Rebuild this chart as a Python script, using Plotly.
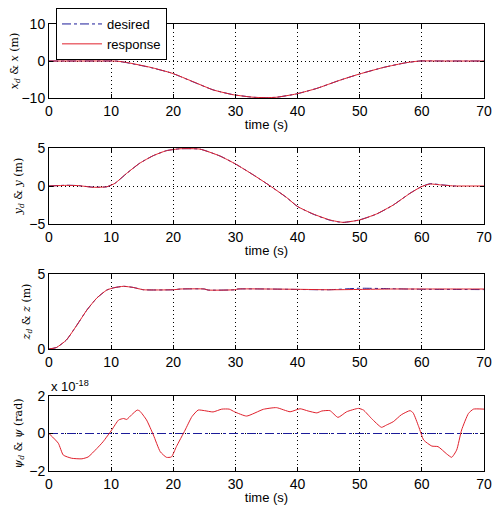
import plotly.graph_objects as go

# ---- panel 1: x position (m)
t_x = [0, 5, 10, 11, 12.5, 16.3, 19.8, 23.2, 26.4, 29.6, 32.9, 35, 36.6, 39.8, 43.1, 46.8, 50, 53.8, 57.5, 59.7, 63, 66, 70]
x_des = [0, 0, 0, -0.05, -0.45, -1.75, -3.3, -5.65, -7.8, -9.1, -9.8, -9.9, -9.8, -8.9, -7.4, -5.2, -3.5, -1.75, -0.45, 0, 0, 0, 0]
x_resp = [0, 0, 0, -0.05, -0.4, -1.7, -3.3, -5.6, -7.8, -9.1, -9.8, -9.9, -9.8, -8.9, -7.4, -5.2, -3.5, -1.75, -0.45, 0, 0, 0, 0]

# ---- panel 2: y position (m)
t_y = [0, 2.8, 4.7, 7.1, 9.3, 10.6, 12.5, 14.6, 16.8, 18.9, 21.1, 24.3, 27.5, 30, 32.9, 35.6,
       38.2, 40, 42.5, 45.2, 47.3, 50, 52.7, 55.4, 58.1, 59.9, 61.3, 63.2, 65.3, 66, 70]
y_des = [0, 0.1, 0.05, -0.15, -0.1, 0.35, 1.65, 3.0, 4.0, 4.65, 4.9, 4.85, 3.95, 2.9, 1.45, 0,
         -1.5, -2.7, -3.7, -4.5, -4.8, -4.45, -3.7, -2.5, -0.95, -0.1, 0.3, 0.15, 0.0, 0.0]
y_resp = [0, 0.08, 0.05, -0.17, -0.1, 0.35, 1.67, 3.0, 4.0, 4.65, 4.9, 4.85, 3.95, 2.9, 1.45, 0,
          -1.49, -2.7, -3.68, -4.47, -4.78, -4.47, -3.68, -2.5, -0.96, -0.1, 0.26, 0.13, 0.0, 0.0, 0.0]

# ---- panel 3: z position (m)
t_z = [0, 1.2, 2.8, 4.5, 6.1, 7.7, 9.3, 10.4, 12, 13.6, 15.2, 20, 21.2, 25, 25.6, 29.9, 30.4,
       35, 40, 45, 50, 55, 60, 65, 70]
z_des = [0, 0.1, 0.6, 1.6, 2.6, 3.4, 3.93, 4.08, 4.18, 4.1, 3.95, 3.95, 4.0, 4.0, 3.93, 3.95, 4.0,
         4.0, 3.97, 3.95, 4.05, 4.02, 3.98, 3.97, 3.96]
z_resp = [0, 0.1, 0.6, 1.6, 2.6, 3.4, 3.93, 4.08, 4.18, 4.1, 3.95, 3.95, 4.0, 4.0, 3.93, 3.95, 4.0,
          4.0, 3.98, 3.95, 3.97, 4.0, 4.0, 4.0, 4.0]

# ---- panel 4: yaw angle (x 1e-18 rad)
t_psi = [0, 1.5, 2.3, 3.65, 5.3, 6.3, 7.7, 8.7, 10.1, 11.2, 12, 12.5, 13.3, 14.2, 14.6, 15.7, 16.8,
         17.9, 18.9, 19.7, 20.5, 21.9, 23, 24, 25, 26.4, 27.8, 29, 29.9, 31.8, 34.5, 36.6, 38.8,
         40.4, 41.7, 43.1, 43.9, 45.2, 46.5, 47.9, 49.8, 50.6, 51.9, 53.5, 54.3, 55.4, 56.7, 58.1,
         58.6, 59.5, 60.3, 61.6, 62.6, 64, 64.8, 65.6, 66.4, 67.5, 68.3, 70]
psi_resp = [0, -0.52, -1.15, -1.32, -1.35, -1.25, -0.8, -0.44, 0.19, 0.72, 0.8, 0.75, 1.0, 1.25, 1.2,
            0.72, -0.08, -0.97, -1.27, -1.25, -0.7, 0.18, 0.9, 1.25, 1.22, 1.15, 1.3, 1.3, 1.15, 0.93,
            1.29, 1.38, 1.16, 1.32, 1.2, 1.1, 1.2, 1.22, 0.86, 1.16, 1.34, 1.25, 0.8, 0.33, 0.45,
            0.63, 1.0, 1.22, 1.1, 0.36, -0.35, -0.67, -0.7, -1.09, -1.27, -0.88, 0.19, 1.07, 1.3, 1.3]
t_psi_des = [0, 70]
psi_des = [0, 0]

ylabels = [
    "<i>x<sub>d</sub></i> & <i>x</i> (m)",
    "<i>y<sub>d</sub></i> & <i>y</i> (m)",
    "<i>z<sub>d</sub></i> & <i>z</i> (m)",
    "<i>ψ<sub>d</sub></i> & <i>ψ</i> (rad)",
]
yranges = [[-10, 10], [-5, 5], [0, 5], [-2, 2]]
yticks = [[-10, 0, 10], [-5, 0, 5], [0, 5], [-2, 0, 2]]
xticks = [0, 10, 20, 30, 40, 50, 60, 70]

# the page body has an 8px margin, so the figure is laid out 8px in from the window corner
OFF = 8
W, H = 502 - 2 * OFF, 515 - 2 * OFF
left, right = 49 - OFF, 484 - OFF
panels_px = [(24 - OFF, 98 - OFF), (148 - OFF, 224 - OFF), (274 - OFF, 349 - OFF), (396 - OFF, 471 - OFF)]
show_xtitle = [True, True, False, True]

BLUE = "#1c1c9a"
RED = "#e0202c"
FONT = "Liberation Sans"

series = [
    (t_x, x_des, t_x, x_resp),
    (t_y[:len(y_des)], y_des, t_y, y_resp),
    (t_z, z_des, t_z, z_resp),
    (t_psi_des, psi_des, t_psi, psi_resp),
]

fig = go.Figure()
for i, (td, yd, tr, yr) in enumerate(series):
    xa = "x" if i == 0 else f"x{i + 1}"
    ya = "y" if i == 0 else f"y{i + 1}"
    fig.add_trace(go.Scatter(x=td, y=yd, xaxis=xa, yaxis=ya, mode="lines", name="desired",
                             line=dict(color=BLUE, width=1, dash="dashdot", shape="spline", smoothing=0.5),
                             showlegend=(i == 0)))
    fig.add_trace(go.Scatter(x=tr, y=yr, xaxis=xa, yaxis=ya, mode="lines", name="response",
                             line=dict(color=RED, width=1, shape="spline", smoothing=0.5),
                             showlegend=(i == 0)))

layout = dict(
    width=W, height=H,
    margin=dict(l=0, r=0, t=0, b=0, autoexpand=False),
    paper_bgcolor="white", plot_bgcolor="white",
    font=dict(family=FONT, size=13, color="black"),
    legend=dict(x=(56 - OFF) / W, y=1 - (8 - OFF) / H, xanchor="left", yanchor="top",
                bgcolor="white", bordercolor="black", borderwidth=1,
                font=dict(family=FONT, size=13), tracegroupgap=0,
                itemwidth=40),
)
for i, (top, bot) in enumerate(panels_px):
    k = "" if i == 0 else str(i + 1)
    layout["xaxis" + k] = dict(
        domain=[left / W, right / W], range=[0, 70], anchor="y" + k,
        tickvals=xticks, ticks="inside", ticklen=4, tickcolor="black",
        showline=True, linecolor="black", linewidth=1, mirror="ticks",
        showgrid=True, gridcolor="black", griddash="1px,3px", gridwidth=1,
        zeroline=False, tickfont=dict(size=14), automargin=False,
        title=dict(text="time (s)" if show_xtitle[i] else "", font=dict(size=13), standoff=2),
    )
    layout["yaxis" + k] = dict(
        domain=[1 - bot / H, 1 - top / H], range=yranges[i], anchor="x" + k,
        tickvals=yticks[i], ticks="inside", ticklen=4, tickcolor="black",
        showline=True, linecolor="black", linewidth=1, mirror="ticks",
        showgrid=True, gridcolor="black", griddash="1px,3px", gridwidth=1,
        zeroline=False, tickfont=dict(size=14), automargin=False,
        title=dict(text=ylabels[i], font=dict(family="DejaVu Serif", size=11), standoff=4),
    )
fig.update_layout(**layout)

fig.add_annotation(x=left / W, y=1 - (396 - OFF) / H, xref="paper", yref="paper",
                   xanchor="left", yanchor="bottom", showarrow=False,
                   text="x 10<sup>-18</sup>", font=dict(family=FONT, size=13))

fig.write_html("out.html")
